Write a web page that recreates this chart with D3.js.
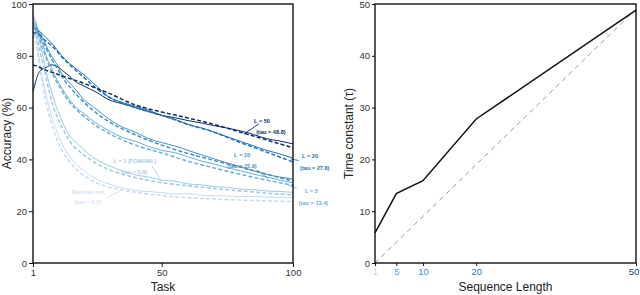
<!DOCTYPE html>
<html><head><meta charset="utf-8">
<script src="https://cdn.jsdelivr.net/npm/d3@7"></script>
<style>body{margin:0;background:#fff;}svg{display:block;font-family:"Liberation Sans",Arial,sans-serif;}</style>
</head><body>
<svg id="c" width="640" height="295"></svg>
<script>
// ---------- data ----------
const seriesNames = ["Random init","L = 1 (FOMAML)","L = 5","L = 10","L = 20","L = 50"];
const seriesColors = ["#c6dbef","#9ecae1","#6baed6","#4292c6","#2171b5","#0b2f66"];
const tauValues = [5.7, 5.8, 13.4, 15.9, 27.8, 48.8];

const solidTasks = [1,2,3,4,5,6,8,10,12,15,18,20,25,30,35,40,45,50,55,60,65,70,75,80,85,90,95,100];
const fitTasks   = [1,2,3,5,8,10,12,15,20,25,30,40,50,60,70,80,90,100];

const solidRandom = [97,90,82,75,69.5,65,57,51,46,41,37.5,36,32.5,30.5,29,28,27.6,27.2,26.6,26.8,26.2,26.0,25.9,25.6,25.7,25.4,25.3,25.3];
const solidL1     = [96,93,88,83,79,74,66.5,60,55,49,46,44,40,37.5,35.6,34,33.2,32,31.6,30.5,30.2,29.5,29.2,28.5,28.3,27.8,27.6,27.3];
const solidL5     = [94,93,89,86.5,83.5,80,75.5,71,67.5,63,59.5,58,54,51,48.5,47,45,43.5,42.6,41,39.4,38.2,36.8,35.6,34.3,33.2,32,31];
const solidL10    = [90,91.5,90,88.5,86.5,84,80,77,73,69.5,66,63.5,59.5,55.5,52.5,50.5,48,46.5,45.2,43.5,41.8,40.2,38.6,37.2,35.6,34.2,33.2,32.4];
const solidL20    = [87,89,89.5,89,88,87,85,82.5,80,77,74.5,73,68.5,64,62,60.5,59,57,55.5,53.5,52.2,50.5,48.7,47,45.2,43.5,42.1,40.5];
const solidL50    = [66,70,73,74.5,75,75.5,76.5,76,74.5,72,69.5,68.5,66,63,61.5,60,58.5,57,56.1,55,54.1,53,52.1,51,49.6,48,47.1,46];

const fitRandom = [93,86,79,67,54,48,43.5,39,34,31,29.3,27.3,26,25.2,24.7,24.3,24,23.7];
const fitL1     = [95,90,85,76,63,57,52.5,47,42,38.5,36,33,31,29.8,28.8,27.8,27,26.3];
const fitL5     = [93,91,88,82,74,70,66.5,62,57,53,50,45.5,42.5,39.3,36.7,34.2,32,30];
const fitL10    = [91,90.3,89,85,79,75.5,72,68,62.5,58,54.5,49.5,45.5,42.3,39.6,37,34.3,31.6];
const fitL20    = [89,88.8,88.5,86.5,84,82,79.5,76.5,72,67.5,64,60,57,53.5,50.5,46.5,42.8,39];
const fitL50    = [76.5,76.2,75.8,74.8,73.7,73,72.3,71.2,69.5,67.5,65.5,61,58.3,56,53.5,50.5,47.5,44.5];

const solidSeries = [solidRandom, solidL1, solidL5, solidL10, solidL20, solidL50];
const fitSeries   = [fitRandom, fitL1, fitL5, fitL10, fitL20, fitL50];

const leftYTicks = [0,20,40,60,80,100];
const leftXTicks = [1,50,100];

const seqLengths = [1,5,10,20,50];
const timeConstants = [5.8,13.4,15.9,27.8,48.8];
const identityLine = [[1,1],[50,50]];
const rightYTicks = [0,10,20,30,40,50];
const seqTickColors = ["#b4d3ea","#5ca3d2","#3d8dc8","#2a75b8","#1b3e73"];

// annotation layout (data coordinates of left panel)
const annotations = [
  {s:5, name:[88.2,54.8], tau:[91.6,50.6], arrow:[[87,53.7],[81.3,49.8]]},
  {s:4, name:[106.5,41.3], tau:[108.3,36.8], arrow:[[102.2,39.6],[99.2,40.1]]},
  {s:3, name:[80.6,41.8], tau:[80.6,37.6], arrow:[[86.3,35.9],[90.5,32.6]]},
  {s:2, name:[107,27.9], tau:[107.8,23.3], arrow:[[101.4,28.7],[97.7,30.4]]},
  {s:1, name:[39.8,39.4], tau:[39.5,35.1], arrow:[[46.3,37.5],[50.1,31.3]]},
  {s:0, name:[21.9,27.4], tau:[21.9,23.6], arrow:[[28.8,25.1],[34.1,27.8]]}
];
const labelColors = ["#d3e4f3","#a9cfe7","#6baed6","#4292c6","#2171b5","#0b2f66"];

// ---------- drawing ----------
const svg = d3.select("#c");
const L = {x0:33, x1:293, y0:4, y1:263};
const R = {x0:375, x1:636, y0:4, y1:263};

const xL = d3.scaleLinear().domain([1,100]).range([L.x0,L.x1]);
const yL = d3.scaleLinear().domain([0,100]).range([L.y1,L.y0]);
const xR = d3.scaleLinear().domain([1,50]).range([R.x0,R.x1]);
const yR = d3.scaleLinear().domain([0,50]).range([R.y1,R.y0]);

svg.append("defs").append("clipPath").attr("id","clipL")
  .append("rect").attr("x",L.x0).attr("y",L.y0).attr("width",L.x1-L.x0).attr("height",L.y1-L.y0);

const gL = svg.append("g").attr("clip-path","url(#clipL)");

// solid lines
solidSeries.forEach((vals,i)=>{
  gL.append("path")
    .attr("d", d3.line().curve(d3.curveMonotoneX).x((d,j)=>xL(solidTasks[j])).y(d=>yL(d))(vals))
    .attr("fill","none").attr("stroke",seriesColors[i]).attr("stroke-width",1);
});
// fitted dashed
fitSeries.forEach((vals,i)=>{
  gL.append("path")
    .attr("d", d3.line().curve(d3.curveMonotoneX).x((d,j)=>xL(fitTasks[j])).y(d=>yL(d))(vals))
    .attr("fill","none").attr("stroke",seriesColors[i]).attr("stroke-width",1.5)
    .attr("stroke-dasharray","4,2.2");
});

// annotations
const ann = svg.append("g").attr("font-size","5.6px").attr("font-weight","bold").attr("text-anchor","middle");
annotations.forEach(a=>{
  const c = labelColors[a.s];
  ann.append("text").attr("x",xL(a.name[0])).attr("y",yL(a.name[1])+2).attr("fill",c).text(seriesNames[a.s]);
  ann.append("text").attr("x",xL(a.tau[0])).attr("y",yL(a.tau[1])+2).attr("fill",c).text(`(tau = ${tauValues[a.s]})`);
  ann.append("line").attr("x1",xL(a.arrow[0][0])).attr("y1",yL(a.arrow[0][1]))
    .attr("x2",xL(a.arrow[1][0])).attr("y2",yL(a.arrow[1][1]))
    .attr("stroke",c).attr("stroke-width",0.9);
});

function frame(P){
  svg.append("rect").attr("x",P.x0).attr("y",P.y0).attr("width",P.x1-P.x0).attr("height",P.y1-P.y0)
    .attr("fill","none").attr("stroke","#111").attr("stroke-width",1.4);
}
function styleAxis(g){
  g.select(".domain").remove();
  g.selectAll(".tick line").attr("stroke","#111").attr("stroke-width",1);
  g.selectAll(".tick text").attr("fill","#333").attr("font-size","9.5px").attr("font-family","'Liberation Sans',Arial,sans-serif");
}

// left axes
const axLY = svg.append("g").attr("transform",`translate(${L.x0},0)`)
  .call(d3.axisLeft(yL).tickValues(leftYTicks).tickSize(4).tickPadding(2));
styleAxis(axLY);
const axLX = svg.append("g").attr("transform",`translate(0,${L.y1})`)
  .call(d3.axisBottom(xL).tickValues(leftXTicks).tickSize(4).tickPadding(2));
styleAxis(axLX);
frame(L);

svg.append("text").attr("x",(L.x0+L.x1)/2).attr("y",291).attr("text-anchor","middle")
  .attr("font-size","12px").attr("fill","#222").text("Task");
svg.append("text").attr("transform",`translate(11,${(L.y0+L.y1)/2}) rotate(-90)`).attr("text-anchor","middle")
  .attr("font-size","12px").attr("fill","#222").text("Accuracy (%)");

// right panel
svg.append("path").datum(identityLine)
  .attr("d", d3.line().x(d=>xR(d[0])).y(d=>yR(d[1]-1)))
  .attr("fill","none").attr("stroke","#999").attr("stroke-width",1).attr("stroke-dasharray","5,4");
svg.append("path")
  .attr("d", d3.line().x((d,i)=>xR(seqLengths[i])).y(d=>yR(d))(timeConstants))
  .attr("fill","none").attr("stroke","#111").attr("stroke-width",1.5);

const axRY = svg.append("g").attr("transform",`translate(${R.x0},0)`)
  .call(d3.axisLeft(yR).tickValues(rightYTicks).tickSize(3).tickPadding(2));
styleAxis(axRY);
const axRX = svg.append("g").attr("transform",`translate(0,${R.y1})`)
  .call(d3.axisBottom(xR).tickValues(seqLengths).tickSize(3).tickPadding(2));
styleAxis(axRX);
axRX.selectAll(".tick text").attr("fill",(d,i)=>seqTickColors[i])
  .attr("dx",(d,i)=> i===seqLengths.length-1 ? -2.5 : 0);
frame(R);

svg.append("text").attr("x",(R.x0+R.x1)/2).attr("y",291).attr("text-anchor","middle")
  .attr("font-size","12px").attr("fill","#222").text("Sequence Length");
svg.append("text").attr("transform",`translate(353,${(R.y0+R.y1)/2}) rotate(-90)`).attr("text-anchor","middle")
  .attr("font-size","12px").attr("fill","#222").text("Time constant (τ)");
</script>
</body></html>
